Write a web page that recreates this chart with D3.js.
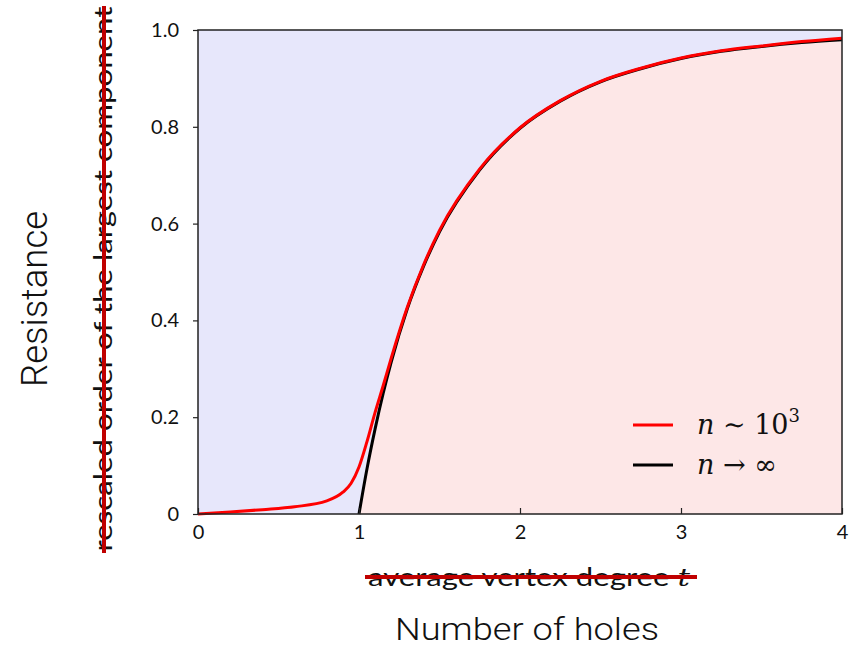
<!DOCTYPE html>
<html>
<head>
	<meta charset="utf-8">
	<title>Resistance vs number of holes</title>
	<style>
		body { margin: 0; background: #fff; }
		svg { display: block; }
	</style>
</head>
<body>
<svg width="851" height="648"></svg>
<script src="https://d3js.org/d3.v7.min.js"></script>
<script>
	// values
	let finiteT = [0, 0.2, 0.4, 0.6, 0.8, 0.9, 0.95, 1.0, 1.05, 1.1, 1.15, 1.2, 1.3, 1.4, 1.5, 1.75, 2, 2.25, 2.5, 2.75, 3, 3.25, 3.5, 3.75, 4]
	let finiteS = [0, 0.004, 0.009, 0.015, 0.027, 0.045, 0.063, 0.097, 0.15, 0.21, 0.265, 0.322, 0.427, 0.514, 0.586, 0.713, 0.798, 0.854, 0.894, 0.921, 0.942, 0.957, 0.967, 0.976, 0.983]

	let limitT = [1.0, 1.05, 1.1, 1.15, 1.2, 1.3, 1.4, 1.5, 1.75, 2, 2.25, 2.5, 2.75, 3, 3.25, 3.5, 3.75, 4]
	let limitS = [0, 0.094, 0.176, 0.249, 0.314, 0.424, 0.511, 0.583, 0.711, 0.797, 0.853, 0.893, 0.92, 0.941, 0.956, 0.966, 0.974, 0.98]

	let xTicks = [0, 1, 2, 3, 4]
	let yTicks = [0, 0.2, 0.4, 0.6, 0.8, 1.0]
	let yTickLabels = ['0', '0.2', '0.4', '0.6', '0.8', '1.0']

	let finite = finiteT.map((t, i) => ({t: t, s: finiteS[i]}))
	// the limit curve is zero below t = 1
	let limit = [{t: 0, s: 0}].concat(limitT.map((t, i) => ({t: t, s: limitS[i]})))

	let plotLeft = 198, plotRight = 842, plotTop = 30, plotBottom = 514

	let svg = d3.select('svg')

	let x = d3.scaleLinear().domain([0, 4]).range([plotLeft, plotRight])
	let y = d3.scaleLinear().domain([0, 1]).range([plotBottom, plotTop])

	let tickFont = 'Lato, "Open Sans", sans-serif'
	let mathFont = '"DejaVu Serif", "Liberation Serif", serif'

	// background (above the curve)
	svg.append('rect')
		.attr('x', plotLeft)
		.attr('y', plotTop)
		.attr('width', plotRight - plotLeft)
		.attr('height', plotBottom - plotTop)
		.style('fill', '#e7e7fb')

	// area under the n -> infinity curve
	let area = d3.area()
		.x(d => x(d.t))
		.y0(y(0))
		.y1(d => y(d.s))
		.curve(d3.curveMonotoneX)

	svg.append('path')
		.datum(limit)
		.attr('d', area)
		.style('fill', '#fde7e7')

	let line = d3.line()
		.x(d => x(d.t))
		.y(d => y(d.s))
		.curve(d3.curveMonotoneX)

	svg.append('path')
		.datum(limit.slice(1))
		.attr('d', line)
		.style('fill', 'none')
		.style('stroke', '#000')
		.style('stroke-width', 3)

	svg.append('path')
		.datum(finite)
		.attr('d', line)
		.style('fill', 'none')
		.style('stroke', '#ff0000')
		.style('stroke-width', 3)

	// frame
	svg.append('rect')
		.attr('x', plotLeft)
		.attr('y', plotTop)
		.attr('width', plotRight - plotLeft)
		.attr('height', plotBottom - plotTop)
		.style('fill', 'none')
		.style('stroke', '#222')
		.style('stroke-width', 1.5)

	// axes
	let xAxis = d3.axisBottom(x)
		.tickValues(xTicks)
		.tickFormat(d3.format('d'))
		.tickSizeInner(-6)
		.tickSizeOuter(0)
		.tickPadding(11)

	let gx = svg.append('g')
		.attr('transform', `translate(0,${plotBottom})`)
		.call(xAxis)
	gx.select('.domain').remove()
	gx.selectAll('line').style('stroke', '#222').style('stroke-width', 1.2)
	gx.selectAll('text')
		.style('font-family', tickFont)
		.style('font-size', '20px')
		.style('fill', '#111')

	let yAxis = d3.axisLeft(y)
		.tickValues(yTicks)
		.tickFormat((d, i) => yTickLabels[i])
		.tickSizeInner(5)
		.tickSizeOuter(0)
		.tickPadding(14)

	let gy = svg.append('g')
		.attr('transform', `translate(${plotLeft},0)`)
		.call(yAxis)
	gy.select('.domain').remove()
	gy.selectAll('line').style('stroke', '#222').style('stroke-width', 1.2)
	gy.selectAll('text')
		.style('font-family', tickFont)
		.style('font-size', '20px')
		.style('fill', '#111')

	// legend
	let legend = [
		{color: '#ff0000', y: 425, rel: ' \u223C 10', sup: '3'},
		{color: '#000', y: 465, rel: ' \u2192 \u221E', sup: ''}
	]
	legend.forEach(l => {
		svg.append('line')
			.attr('x1', 633).attr('x2', 673)
			.attr('y1', l.y).attr('y2', l.y)
			.style('stroke', l.color)
			.style('stroke-width', 3)
		let txt = svg.append('text')
			.attr('x', 697)
			.attr('y', l.y + 9)
			.style('font-family', mathFont)
			.style('font-size', '27px')
			.style('fill', '#111')
		txt.append('tspan').style('font-style', 'italic').text('n')
		txt.append('tspan').text(l.rel)
		if (l.sup) {
			txt.append('tspan')
				.attr('dy', -12)
				.style('font-size', '18px')
				.text(l.sup)
		}
	})

	// old crossed-out y label
	svg.append('text')
		.attr('transform', 'translate(112,279) rotate(-90)')
		.attr('text-anchor', 'middle')
		.attr('textLength', 545)
		.attr('lengthAdjust', 'spacingAndGlyphs')
		.style('font-family', tickFont)
		.style('font-size', '25px')
		.style('fill', '#111')
		.text('rescaled order of the largest component')

	svg.append('line')
		.attr('x1', 104).attr('x2', 104)
		.attr('y1', 6).attr('y2', 553)
		.style('stroke', '#c00000')
		.style('stroke-width', 4)

	// old crossed-out x label
	let xOld = svg.append('text')
		.attr('x', 368)
		.attr('y', 586)
		.attr('textLength', 322)
		.attr('lengthAdjust', 'spacingAndGlyphs')
		.style('font-family', tickFont)
		.style('font-size', '25px')
		.style('fill', '#111')
	xOld.append('tspan').text('average vertex degree ')
	xOld.append('tspan')
		.style('font-family', mathFont)
		.style('font-style', 'italic')
		.text('t')

	svg.append('line')
		.attr('x1', 365).attr('x2', 697)
		.attr('y1', 577).attr('y2', 577)
		.style('stroke', '#c00000')
		.style('stroke-width', 4)

	// new labels
	svg.append('text')
		.attr('transform', 'translate(47,299) rotate(-90)')
		.attr('text-anchor', 'middle')
		.attr('textLength', 176)
		.attr('lengthAdjust', 'spacingAndGlyphs')
		.style('font-family', 'Roboto, sans-serif')
		.style('font-weight', 300)
		.style('font-size', '37px')
		.style('fill', '#111')
		.text('Resistance')

	svg.append('text')
		.attr('x', 527)
		.attr('y', 640)
		.attr('text-anchor', 'middle')
		.attr('textLength', 264)
		.attr('lengthAdjust', 'spacingAndGlyphs')
		.style('font-family', 'Roboto, sans-serif')
		.style('font-weight', 300)
		.style('font-size', '32px')
		.style('fill', '#111')
		.text('Number of holes')
</script>
</body>
</html>
